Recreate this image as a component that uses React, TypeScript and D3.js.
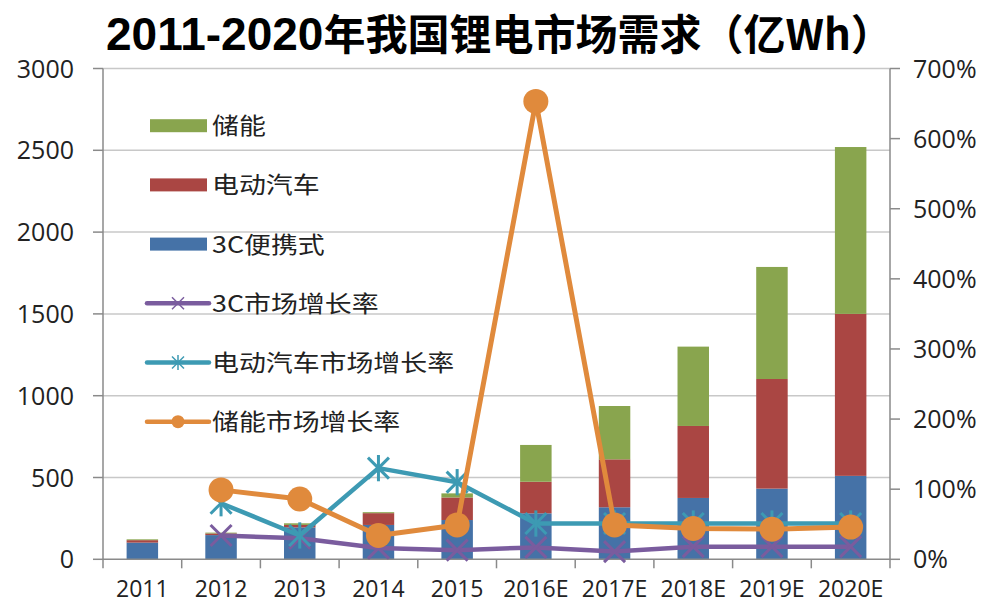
import React from 'react';
import * as d3 from 'd3';

const years = ['2011', '2012', '2013', '2014', '2015', '2016E', '2017E', '2018E', '2019E', '2020E'];
const c3Demand = [102, 148, 195, 210, 240, 281, 318, 375, 432, 510];
const evDemand = [15, 10, 15, 72, 138, 193, 293, 440, 670, 990];
const esDemand = [5, 5, 10, 6, 25, 225, 326, 485, 685, 1020];

const c3Growth: (number | null)[] = [null, 0.34, 0.30, 0.16, 0.13, 0.17, 0.11, 0.18, 0.18, 0.18];
const evGrowth: (number | null)[] = [null, 0.80, 0.34, 1.30, 1.10, 0.51, 0.51, 0.51, 0.51, 0.51];
const esGrowth: (number | null)[] = [null, 0.99, 0.86, 0.34, 0.49, 6.53, 0.49, 0.44, 0.43, 0.46];

const leftTicks = [0, 500, 1000, 1500, 2000, 2500, 3000];
const rightTicks = [0, 1, 2, 3, 4, 5, 6, 7];

const title = '2011-2020';
const titleRest = '年我国锂电市场需求（亿Wh）';

const barSeries = [
  { key: 'c3', name: '3C便携式', color: '#4572A7' },
  { key: 'ev', name: '电动汽车', color: '#AA4643' },
  { key: 'es', name: '储能', color: '#89A54E' },
];

const lineSeries = [
  { name: '3C市场增长率', values: c3Growth, color: '#7A5C9E', marker: 'x', width: 4.5 },
  { name: '电动汽车市场增长率', values: evGrowth, color: '#3D9AB3', marker: 'star', width: 4.5 },
  { name: '储能市场增长率', values: esGrowth, color: '#E08A3C', marker: 'circle', width: 5 },
];

const W = 987;
const H = 605;
const X0 = 103;
const X1 = 890;
const Y0 = 559.3;
const Y1 = 68.5;

function Marker({ type, x, y, color, size, sw }: any) {
  if (type === 'circle') return <circle cx={x} cy={y} r={size} fill={color} />;
  const s = size;
  const paths = [
    `M${x - s},${y - s}L${x + s},${y + s}`,
    `M${x - s},${y + s}L${x + s},${y - s}`,
  ];
  if (type === 'star') paths.push(`M${x},${y - s * 1.25}L${x},${y + s * 1.25}`);
  return (
    <g stroke={color} strokeWidth={sw} fill="none">
      {paths.map((d, i) => <path key={i} d={d} />)}
    </g>
  );
}

export default function App() {
  const x = d3.scaleBand<string>().domain(years).range([X0, X1]).paddingInner(0.6).paddingOuter(0.3);
  const step = (X1 - X0) / years.length;
  const cx = (yr: string) => (x(yr) as number) + x.bandwidth() / 2;
  const yL = d3.scaleLinear().domain([0, 3000]).range([Y0, Y1]);
  const yR = d3.scaleLinear().domain([0, 7]).range([Y0, Y1]);

  const rows = years.map((yr, i) => ({ year: yr, c3: c3Demand[i], ev: evDemand[i], es: esDemand[i] }));
  const stack = d3.stack<any>().keys(barSeries.map(s => s.key))(rows);

  const lineGen = d3.line<any>()
    .defined((d: any) => d.v != null)
    .x((d: any) => cx(d.yr))
    .y((d: any) => yR(d.v));

  const axisColor = '#8a8a8a';
  const gridColor = '#c8c8c8';
  const font = '"Open Sans", "Liberation Sans", sans-serif';
  const cjk = '"Noto Sans CJK SC", "Open Sans", sans-serif';

  const legendY0 = 125.7;
  const legendDy = 59.2;
  const legendItems = [
    { name: '储能', color: '#89A54E', kind: 'rect' },
    { name: '电动汽车', color: '#AA4643', kind: 'rect' },
    { name: '3C便携式', color: '#4572A7', kind: 'rect' },
    ...lineSeries.map(s => ({ name: s.name, color: s.color, kind: s.marker })),
  ];

  return (
    <svg width={W} height={H} style={{ position: 'absolute', left: 0, top: 0, background: '#fff' }}>
      <rect x={0} y={0} width={W} height={H} fill="#fff" />
      {/* title */}
      <text x={106} y={50} fontFamily={'"Liberation Sans", "Noto Sans CJK SC", sans-serif'} fontWeight={700} fill="#000">
        <tspan fontSize={46}>{title}</tspan>
        <tspan fontSize={42} fontFamily={cjk}>{titleRest}</tspan>
      </text>

      {/* gridlines */}
      {leftTicks.filter(t => t > 0).map(t => (
        <line key={t} x1={X0} x2={X1} y1={yL(t)} y2={yL(t)} stroke={gridColor} strokeWidth={1.5} />
      ))}

      {/* bars */}
      {stack.map((layer, li) => (
        <g key={layer.key} fill={barSeries[li].color}>
          {layer.map((d: any, i: number) => (
            <rect key={i} x={x(years[i])} width={x.bandwidth()} y={yL(d[1])} height={yL(d[0]) - yL(d[1])} />
          ))}
        </g>
      ))}

      {/* axes */}
      <g stroke={axisColor} strokeWidth={1.5}>
        <line x1={X0} x2={X0} y1={Y1} y2={Y0} />
        <line x1={X1} x2={X1} y1={Y1} y2={Y0} />
        <line x1={X0} x2={X1} y1={Y0} y2={Y0} />
        {leftTicks.map(t => <line key={'l' + t} x1={X0 - 10} x2={X0} y1={yL(t)} y2={yL(t)} />)}
        {rightTicks.map(t => <line key={'r' + t} x1={X1} x2={X1 + 10} y1={yR(t)} y2={yR(t)} />)}
        {d3.range(years.length + 1).map(i => (
          <line key={'b' + i} x1={X0 + i * step} x2={X0 + i * step} y1={Y0} y2={Y0 + 9} />
        ))}
      </g>

      {/* left labels */}
      {leftTicks.map(t => (
        <text key={t} x={74} y={yL(t) + 9} textAnchor="end" fontFamily={font} fontSize={25} fill="#222">{t}</text>
      ))}
      {/* right labels */}
      {rightTicks.map(t => (
        <text key={t} x={913} y={yR(t) + 9} textAnchor="start" fontFamily={font} fontSize={25} fill="#222">{`${t * 100}%`}</text>
      ))}
      {/* x labels */}
      {years.map(yr => (
        <text key={yr} x={cx(yr)} y={597} textAnchor="middle" fontFamily={font} fontSize={23} fill="#222">{yr}</text>
      ))}

      {/* lines */}
      {lineSeries.map(s => {
        const pts = years.map((yr, i) => ({ yr, v: s.values[i] }));
        return (
          <g key={s.name}>
            <path d={lineGen(pts) as string} fill="none" stroke={s.color} strokeWidth={s.width} strokeLinejoin="round" />
            {pts.filter(p => p.v != null).map(p => (
              <Marker key={p.yr} type={s.marker} x={cx(p.yr)} y={yR(p.v as number)} color={s.color}
                size={s.marker === 'circle' ? 12.5 : 10.5} sw={3} />
            ))}
          </g>
        );
      })}

      {/* legend */}
      {legendItems.map((it, i) => {
        const yy = legendY0 + i * legendDy;
        return (
          <g key={it.name}>
            {it.kind === 'rect' ? (
              <rect x={150} y={yy - 6.5} width={57} height={13} fill={it.color} />
            ) : (
              <g>
                <line x1={147} x2={209} y1={yy} y2={yy} stroke={it.color} strokeWidth={4.5} strokeLinecap="round" />
                <Marker type={it.kind} x={178} y={yy} color={it.color} size={it.kind === 'circle' ? 6.5 : 6} sw={1.5} />
              </g>
            )}
            <text transform={`translate(212,${yy + 8.5}) scale(1.17,1)`} fontFamily={cjk} fontSize={23} fill="#222">{it.name}</text>
          </g>
        );
      })}
    </svg>
  );
}
